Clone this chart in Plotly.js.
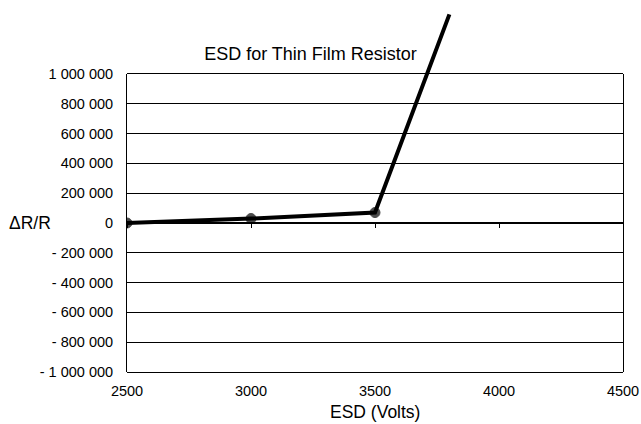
<!DOCTYPE html>
<html>
<head>
<meta charset="utf-8">
<script src="https://cdn.plot.ly/plotly-3.0.1.min.js"></script>
<style>html,body{margin:0;padding:0;background:#fff;}#chart{width:641px;height:424px;}</style>
</head>
<body>
<div id="chart"></div>
<script>
// ---- data ----
const esdVolts = [2500, 3000, 3500, 3800];
const deltaRR = [0, 30000, 70000, 1400000];
const markerShown = [true, true, true, false];
const xTickVals = [2500, 3000, 3500, 4000, 4500];
const xTickText = ['2500', '3000', '3500', '4000', '4500'];
const yTickVals = [1000000, 800000, 600000, 400000, 200000, 0, -200000, -400000, -600000, -800000, -1000000];
const yTickText = ['1 000 000', '800 000', '600 000', '400 000', '200 000', '0', '- 200 000', '- 400 000', '- 600 000', '- 800 000', '- 1 000 000'];
const chartTitle = 'ESD for Thin Film Resistor';
const xTitle = 'ESD (Volts)';
const yTitle = '\u0394R/R';

// ---- layout geometry ----
const W = 641, H = 424;
const M = {l: 127, r: 18, t: 0, b: 52};
const plotH = H - M.t - M.b;        // full subplot area height (line may overflow up here)
const boxTop = 74;                  // pixel top of the gridded box
const boxH = (H - M.b) - boxTop;
const yMin = -1000000, yMax = 1000000;
const boxFrac = boxH / plotH;
const perPx = (yMax - yMin) / boxH;
const y2Max = yMin + perPx * plotH;
const zeroFrac = boxFrac * (0 - yMin) / (yMax - yMin);
const font = 'Liberation Sans, Arial, Helvetica, sans-serif';

const traces = [{
  x: esdVolts, y: deltaRR, xaxis: 'x', yaxis: 'y2',
  type: 'scatter', mode: 'lines+markers',
  line: {color: '#000', width: 4},
  marker: {
    color: '#000', size: markerShown.map(s => s ? 10 : 0),
    line: {color: '#000', width: markerShown.map(s => s ? 1 : 0)}
  },
  hoverinfo: 'skip', showlegend: false
}, {
  x: [], y: [], xaxis: 'x2', yaxis: 'y', type: 'scatter', mode: 'markers', showlegend: false
}];

const layout = {
  width: W, height: H,
  margin: M,
  paper_bgcolor: '#fff', plot_bgcolor: 'rgba(0,0,0,0)',
  showlegend: false,
  font: {family: font, color: '#000', size: 14.5},
  title: {
    text: chartTitle, font: {family: font, size: 18, color: '#000'},
    xref: 'container', yref: 'container', x: 310.5 / W, y: 1 - 54 / H,
    xanchor: 'center', yanchor: 'middle'
  },
  xaxis: {
    range: [2500, 4500], tickvals: xTickVals, ticktext: xTickText,
    showgrid: false, zeroline: false, showline: true, linecolor: '#000', linewidth: 1, mirror: true,
    ticks: '', ticklabelstandoff: 6, tickfont: {size: 14.5, family: font, color: '#000'},
    anchor: 'y', fixedrange: true
  },
  xaxis2: {
    range: [2500, 4500], tickvals: xTickVals, overlaying: 'x', anchor: 'free', position: zeroFrac,
    ticks: 'outside', ticklen: 4, tickwidth: 1, tickcolor: '#000',
    showticklabels: false, showgrid: false, zeroline: false, showline: false, fixedrange: true
  },
  yaxis: {
    domain: [0, boxFrac], range: [yMin, yMax], tickvals: yTickVals, ticktext: yTickText,
    showgrid: true, gridcolor: '#000', gridwidth: 1,
    zeroline: true, zerolinecolor: '#000', zerolinewidth: 1.5,
    showline: true, linecolor: '#000', linewidth: 1, mirror: true,
    ticks: '', ticklabelstandoff: 10, tickfont: {size: 14.5, family: font, color: '#000'},
    anchor: 'x', fixedrange: true
  },
  yaxis2: {
    domain: [0, 1], range: [yMin, y2Max], anchor: 'x',
    visible: false, showgrid: false, zeroline: false, fixedrange: true
  },
  annotations: [{
    text: xTitle, xref: 'paper', yref: 'paper',
    x: 0.5, y: ((H - M.b) - 411.5) / plotH, xanchor: 'center', yanchor: 'middle',
    showarrow: false, font: {family: font, size: 17.5, color: '#000'}
  }, {
    text: yTitle, xref: 'paper', yref: 'paper',
    x: (7 - M.l) / (W - M.l - M.r), y: ((H - M.b) - 223) / plotH, xanchor: 'left', yanchor: 'middle',
    showarrow: false, font: {family: font, size: 17.5, color: '#000'}
  }]
};

Plotly.newPlot('chart', traces, layout, {displayModeBar: false, staticPlot: true});
</script>
</body>
</html>
